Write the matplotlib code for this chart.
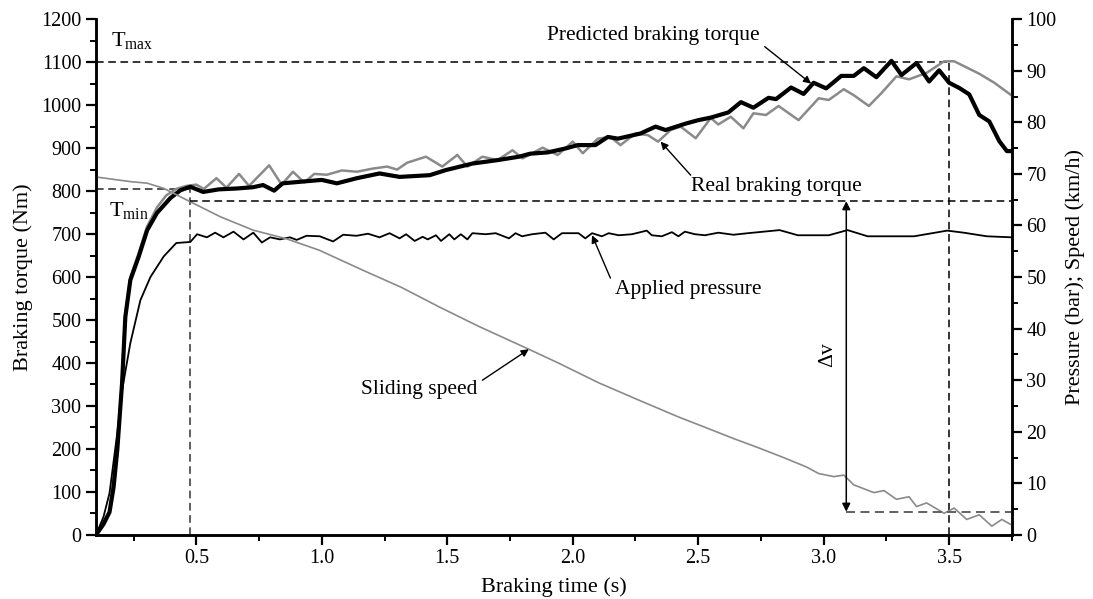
import matplotlib
matplotlib.use('Agg')
import matplotlib.pyplot as plt
from matplotlib.ticker import MultipleLocator

plt.rcParams['font.family'] = ['Liberation Serif', 'DejaVu Serif']
plt.rcParams['mathtext.default'] = 'regular'

# Real braking torque (Nm) - thick black
t_real = [0.1, 0.13, 0.154, 0.17, 0.185, 0.204, 0.217, 0.237, 0.27, 0.304, 0.343, 0.397, 0.437,
          0.476, 0.527, 0.59, 0.66, 0.726, 0.766, 0.81, 0.844, 0.92, 1.0, 1.06, 1.14, 1.23, 1.31,
          1.43, 1.495, 1.6, 1.7, 1.786, 1.83, 1.9, 1.97, 2.02, 2.09, 2.14, 2.18, 2.27, 2.33, 2.37,
          2.45, 2.5, 2.55, 2.62, 2.67, 2.72, 2.78, 2.81, 2.87, 2.92, 2.96, 3.01, 3.07, 3.12, 3.16,
          3.21, 3.27, 3.31, 3.37, 3.42, 3.46, 3.5, 3.54, 3.58, 3.62, 3.66, 3.7, 3.73, 3.75]
torque_real = [0, 25, 53, 110, 198, 353, 507, 593, 647, 709, 749, 784, 802,
               810, 798, 804, 806, 809, 814, 801, 818, 822, 826, 818, 830, 841, 833,
               837, 849, 864, 872, 880, 887, 890, 899, 907, 907, 926, 922, 934, 950, 942,
               957, 965, 971, 983, 1007, 994, 1017, 1014, 1041, 1026, 1052, 1039, 1068, 1068, 1086,
               1065, 1103, 1070, 1098, 1055, 1081, 1052, 1040, 1025, 977, 962, 916, 893, 893]

# Predicted braking torque (Nm) - grey
t_pred = [0.1, 0.154, 0.185, 0.204, 0.217, 0.237, 0.27, 0.304, 0.343, 0.38, 0.42, 0.46, 0.5,
          0.53, 0.58, 0.62, 0.67, 0.71, 0.79, 0.84, 0.885, 0.93, 0.97, 1.02, 1.08, 1.14, 1.2,
          1.26, 1.3, 1.34, 1.415, 1.48, 1.54, 1.58, 1.64, 1.7, 1.76, 1.8, 1.88, 1.94, 2.0, 2.04,
          2.1, 2.15, 2.19, 2.25, 2.3, 2.34, 2.39, 2.43, 2.49, 2.55, 2.58, 2.63, 2.68, 2.72, 2.77,
          2.82, 2.9, 2.98, 3.02, 3.08, 3.12, 3.18, 3.23, 3.29, 3.34, 3.41, 3.48, 3.52, 3.62,
          3.68, 3.75]
torque_pred = [0, 55, 205, 360, 515, 600, 655, 718, 762, 790, 805, 812, 815,
               805, 830, 808, 840, 812, 860, 815, 845, 820, 840, 838, 848, 845, 852,
               857, 850, 866, 880, 857, 884, 857, 880, 872, 895, 876, 901, 884, 915, 888,
               922, 926, 907, 934, 930, 915, 942, 950, 923, 970, 955, 973, 946, 981, 977,
               998, 965, 1016, 1012, 1037, 1023, 998, 1028, 1067, 1060, 1075, 1102, 1102, 1073,
               1052, 1022]

# Applied pressure (bar) - thin black
t_press = [0.1, 0.13, 0.154, 0.185, 0.204, 0.237, 0.277, 0.317, 0.37, 0.42, 0.476, 0.503,
           0.542, 0.575, 0.608, 0.648, 0.688, 0.727, 0.761, 0.794, 0.833, 0.873, 0.9, 0.939,
           0.992, 1.045, 1.085, 1.138, 1.184, 1.23, 1.27, 1.31, 1.336, 1.37, 1.402, 1.422,
           1.455, 1.475, 1.508, 1.528, 1.554, 1.58, 1.6, 1.653, 1.693, 1.746, 1.772, 1.798,
           1.838, 1.891, 1.924, 1.957, 2.023, 2.05, 2.077, 2.116, 2.143, 2.183, 2.236, 2.295,
           2.315, 2.355, 2.395, 2.421, 2.447, 2.487, 2.527, 2.58, 2.64, 2.698, 2.824, 2.897,
           3.02, 3.095, 3.175, 3.36, 3.492, 3.558, 3.65, 3.75]
pressure = [0, 3.5, 8.1, 19.8, 28.0, 37.2, 45.5, 50.0, 54.0, 56.6, 56.8, 58.3,
            57.7, 58.6, 57.7, 58.8, 57.3, 58.6, 56.7, 57.7, 57.3, 57.7, 57.2, 58.0,
            57.9, 56.9, 58.2, 58.0, 58.4, 57.7, 58.5, 57.5, 58.3, 57.0, 57.8, 57.3,
            58.1, 57.0, 58.3, 57.3, 58.3, 57.3, 58.5, 58.3, 58.5, 57.5, 58.5, 57.9,
            58.3, 58.6, 57.3, 58.5, 58.5, 57.5, 58.5, 57.9, 58.5, 58.1, 58.3, 59.0,
            58.1, 57.9, 58.7, 57.9, 58.8, 58.3, 58.1, 58.6, 58.2, 58.5, 59.1, 58.1,
            58.1, 59.1, 57.9, 57.9, 59.0, 58.6, 57.9, 57.7]

# Sliding speed (km/h) - thin grey
t_speed = [0.1, 0.237, 0.304, 0.37, 0.476, 0.595, 0.726, 0.86, 0.99, 1.16, 1.317, 1.468,
           1.627, 1.825, 1.944, 2.103, 2.26, 2.42, 2.52, 2.64, 2.745, 2.84, 2.93, 2.98, 3.04,
           3.08, 3.12, 3.2, 3.24, 3.29, 3.34, 3.37, 3.41, 3.48, 3.52, 3.57, 3.62, 3.67, 3.71, 3.75]
speed = [69.4, 68.5, 68.2, 67.2, 64.6, 61.7, 59.1, 57.4, 55.2, 51.4, 48.0, 44.2,
         40.4, 36.0, 33.3, 29.5, 26.2, 22.9, 21.0, 18.7, 16.8, 15.0, 13.2, 11.9, 11.3,
         11.6, 9.7, 8.2, 8.6, 6.9, 7.4, 5.5, 6.2, 4.2, 5.2, 3.0, 3.9, 1.7, 3.0, 1.9]

t_min, T_min = 0.476, 806
t_max, T_max = 3.5, 1100
v_start, v_end, t_dv = 64.7, 4.5, 3.09

fig = plt.figure(figsize=(10.93, 5.99), dpi=100)
ax = fig.add_axes([0.0878, 0.107, 0.838, 0.861])
ax2 = ax.twinx()

ax.plot(t_pred, torque_pred, color='#8a8a8a', lw=1.8, zorder=3, solid_joinstyle='round')
ax.plot(t_real, torque_real, color='black', lw=3.0, zorder=4, solid_joinstyle='round')
ax2.plot(t_press, pressure, color='black', lw=1.3, solid_joinstyle='round')
ax2.plot(t_speed, speed, color='#8a8a8a', lw=1.2, solid_joinstyle='round')

dash = (0, (5, 3))
ax.plot([0.1, t_max], [T_max, T_max], color='black', lw=1.1, ls=dash)
ax.plot([t_max, t_max], [0, T_max], color='black', lw=1.1, ls=dash)
ax.plot([0.1, t_min], [T_min, T_min], color='#222222', lw=1.1, ls=dash)
ax.plot([t_min, t_min], [0, T_min], color='#333333', lw=1.1, ls=dash)
ax2.plot([t_min, 3.75], [v_start, v_start], color='black', lw=1.1, ls=dash)
ax2.plot([t_dv, 3.75], [v_end, v_end], color='#555555', lw=1.3, ls=dash)
ax2.annotate('', xy=(t_dv, v_start), xytext=(t_dv, v_end),
             arrowprops=dict(arrowstyle='<|-|>', color='black', lw=1.1, mutation_scale=12,
                             shrinkA=0, shrinkB=0))

fs = 15.5
ax.text(0.16, 1150, r'$T_{max}$', fontsize=16, va='center')
ax.text(0.15, 755, r'$T_{min}$', fontsize=16, va='center')
arrow = dict(arrowstyle='-|>', color='black', lw=1.0, mutation_scale=11, shrinkA=0, shrinkB=0)
ax.text(2.32, 1163, 'Predicted braking torque', fontsize=fs, ha='center', va='center')
ax.annotate('', xy=(2.95, 1050), xytext=(2.765, 1136), arrowprops=arrow)
ax.text(2.81, 810, 'Real braking torque', fontsize=fs, ha='center', va='center')
ax.annotate('', xy=(2.35, 915), xytext=(2.47, 837), arrowprops=arrow)
ax2.text(2.46, 47.5, 'Applied pressure', fontsize=fs, ha='center', va='center')
ax2.annotate('', xy=(2.077, 58.1), xytext=(2.15, 49.8), arrowprops=arrow)
ax2.text(1.39, 28.1, 'Sliding speed', fontsize=fs, ha='center', va='center')
ax2.annotate('', xy=(1.825, 36.0), xytext=(1.64, 30.0), arrowprops=arrow)
ax2.text(3.02, 35, r'$\Delta$v', fontsize=fs, ha='center', va='center', rotation=90)

ax.set_xlim(0.1, 3.75)
ax.set_ylim(0, 1200)
ax2.set_ylim(0, 100)
ax.xaxis.set_major_locator(MultipleLocator(0.5))
ax.xaxis.set_minor_locator(MultipleLocator(0.25))
ax.yaxis.set_major_locator(MultipleLocator(100))
ax.yaxis.set_minor_locator(MultipleLocator(50))
ax2.yaxis.set_major_locator(MultipleLocator(10))
ax2.yaxis.set_minor_locator(MultipleLocator(5))
ax.xaxis.set_major_formatter(plt.FuncFormatter(lambda v, p: f'{v:.1f}'))

for a in (ax, ax2):
    a.spines['top'].set_visible(False)
    for s in ('left', 'right', 'bottom'):
        a.spines[s].set_linewidth(1.8)
    a.tick_params(which='major', direction='out', length=7, width=1.6, labelsize=14.5)
    a.tick_params(which='minor', direction='out', length=4, width=1.4)

ax.set_xlabel('Braking time (s)', fontsize=16, labelpad=6)
ax.set_ylabel('Braking torque (Nm)', fontsize=16, labelpad=6)
ax2.set_ylabel('Pressure (bar); Speed (km/h)', fontsize=16, labelpad=6)

fig.savefig('out.png', dpi=100)
